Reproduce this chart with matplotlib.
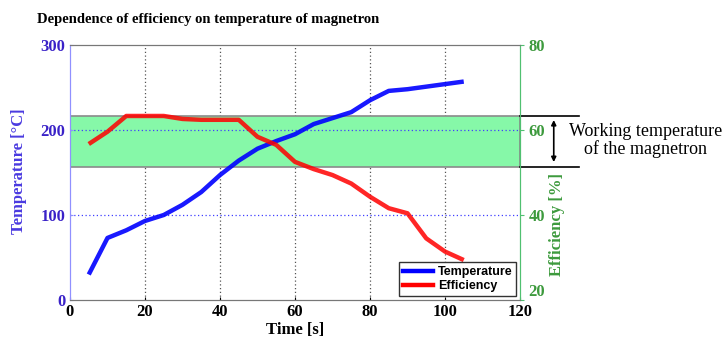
import matplotlib
matplotlib.use("Agg")
import matplotlib.pyplot as plt
from matplotlib.lines import Line2D

time_s = [5, 10, 15, 20, 25, 30, 35, 40, 45, 50, 55, 60, 65, 70, 75, 80, 85, 90, 95, 100, 105]
temperature = [30, 73, 82, 93, 100, 112, 127, 147, 164, 178, 187, 195, 207, 214, 221, 235, 246, 248, 251, 254, 257]
efficiency = [56.7, 59.6, 63.3, 63.3, 63.3, 62.6, 62.4, 62.4, 62.4, 58.4, 56.5, 52.5, 50.8, 49.4, 47.4, 44.3, 41.6, 40.4, 34.5, 31.4, 29.4]
band_temp = [157, 217]
x_ticks = [0, 20, 40, 60, 80, 100, 120]
t_ticks = [0, 100, 200, 300]
e_ticks = [20, 40, 60, 80]

serif = "Liberation Serif"
left_col = "#3a22c8"
right_col = "#3d9a3d"

fig = plt.figure(figsize=(7.26, 3.38), dpi=100)
ax = fig.add_axes([70/726, 38/338, 450/726, 255/338])
ax2 = ax.twinx()

ax.set_xlim(0, 120)
ax.set_ylim(0, 300)
ax2.set_ylim(20, 80)

# grids
for xv in x_ticks[1:-1]:
    ax.axvline(xv, color="#555555", ls=(0, (1, 2)), lw=0.9, zorder=1)
for yv in t_ticks[1:-1]:
    ax.axhline(yv, color="#4040ff", ls=(0, (1, 2)), lw=0.9, zorder=1.5)

# working temperature band
ax.axhspan(band_temp[0], band_temp[1], facecolor="#86f8a8", edgecolor="#8a8a8a", lw=1.2, zorder=1.2)

ax.plot(time_s, temperature, color="#0000ff", lw=3.2, zorder=3, alpha=0.9, solid_capstyle="butt")
ax2.plot(time_s, efficiency, color="#ff0000", lw=3.2, zorder=3, alpha=0.85, solid_capstyle="butt")

# outside annotation
for yv in band_temp:
    ax.plot([120, 135.6], [yv, yv], color="black", lw=1.2, clip_on=False, zorder=5)
ax.annotate("", xy=(129, band_temp[1] - 2), xytext=(129, band_temp[0] + 2),
            arrowprops=dict(arrowstyle="<|-|>", color="black", lw=1.2, mutation_scale=7),
            annotation_clip=False)
ax.text(153.5, 188, "Working temperature\nof the magnetron", ha="center", va="center",
        fontsize=13, family=serif, linespacing=1.0, clip_on=False)

ax.set_xticks(x_ticks)
ax.set_yticks(t_ticks)
ax2.set_yticks(e_ticks)
ax.tick_params(axis="x", direction="in", length=2, labelsize=12, pad=3)
ax.tick_params(axis="y", direction="in", length=2, labelsize=12, labelcolor=left_col, colors="#9090ff")
ax2.tick_params(axis="y", direction="out", length=3, labelsize=12, labelcolor=right_col, colors="#50c070", pad=3)
for lab in ax.get_xticklabels() + ax.get_yticklabels() + ax2.get_yticklabels():
    lab.set_family(serif)
    lab.set_fontweight("bold")
ax2.get_yticklabels()[0].set_va("bottom")

for a in (ax, ax2):
    a.spines["top"].set_color("#777777")
    a.spines["bottom"].set_color("#777777")
    a.spines["left"].set_color("#9090ff")
    a.spines["right"].set_color("#50c070")

fig.text(208/726, 1 - 20/338, "Dependence of efficiency on temperature of magnetron",
         ha="center", va="center", fontsize=10.5, fontweight="bold", family=serif)
fig.text(295/726, 1 - 330/338, "Time [s]", ha="center", va="center", fontsize=12,
         fontweight="bold", family=serif)
fig.text(19/726, 1 - 171/338, "Temperature [°C]", ha="center", va="center", rotation=90,
         fontsize=12, fontweight="bold", family=serif, color="#4a3ae0")
fig.text(557/726, 1 - 225/338, "Efficiency [%]", ha="center", va="center", rotation=90,
         fontsize=12, fontweight="bold", family=serif, color=right_col)

handles = [Line2D([], [], color="#0000ff", lw=3.2), Line2D([], [], color="#ff0000", lw=3.2)]
leg = ax2.legend(handles, ["Temperature", "Efficiency"], loc="lower right",
                 prop={"family": "Liberation Sans", "weight": "bold", "size": 9},
                 frameon=True, fancybox=False, edgecolor="#333333", framealpha=1,
                 handlelength=2.4, borderpad=0.3, labelspacing=0.2, handletextpad=0.4,
                 borderaxespad=0.3)
leg.get_frame().set_linewidth(1.0)
leg.set_zorder(10)

fig.savefig("out.png", dpi=100)
